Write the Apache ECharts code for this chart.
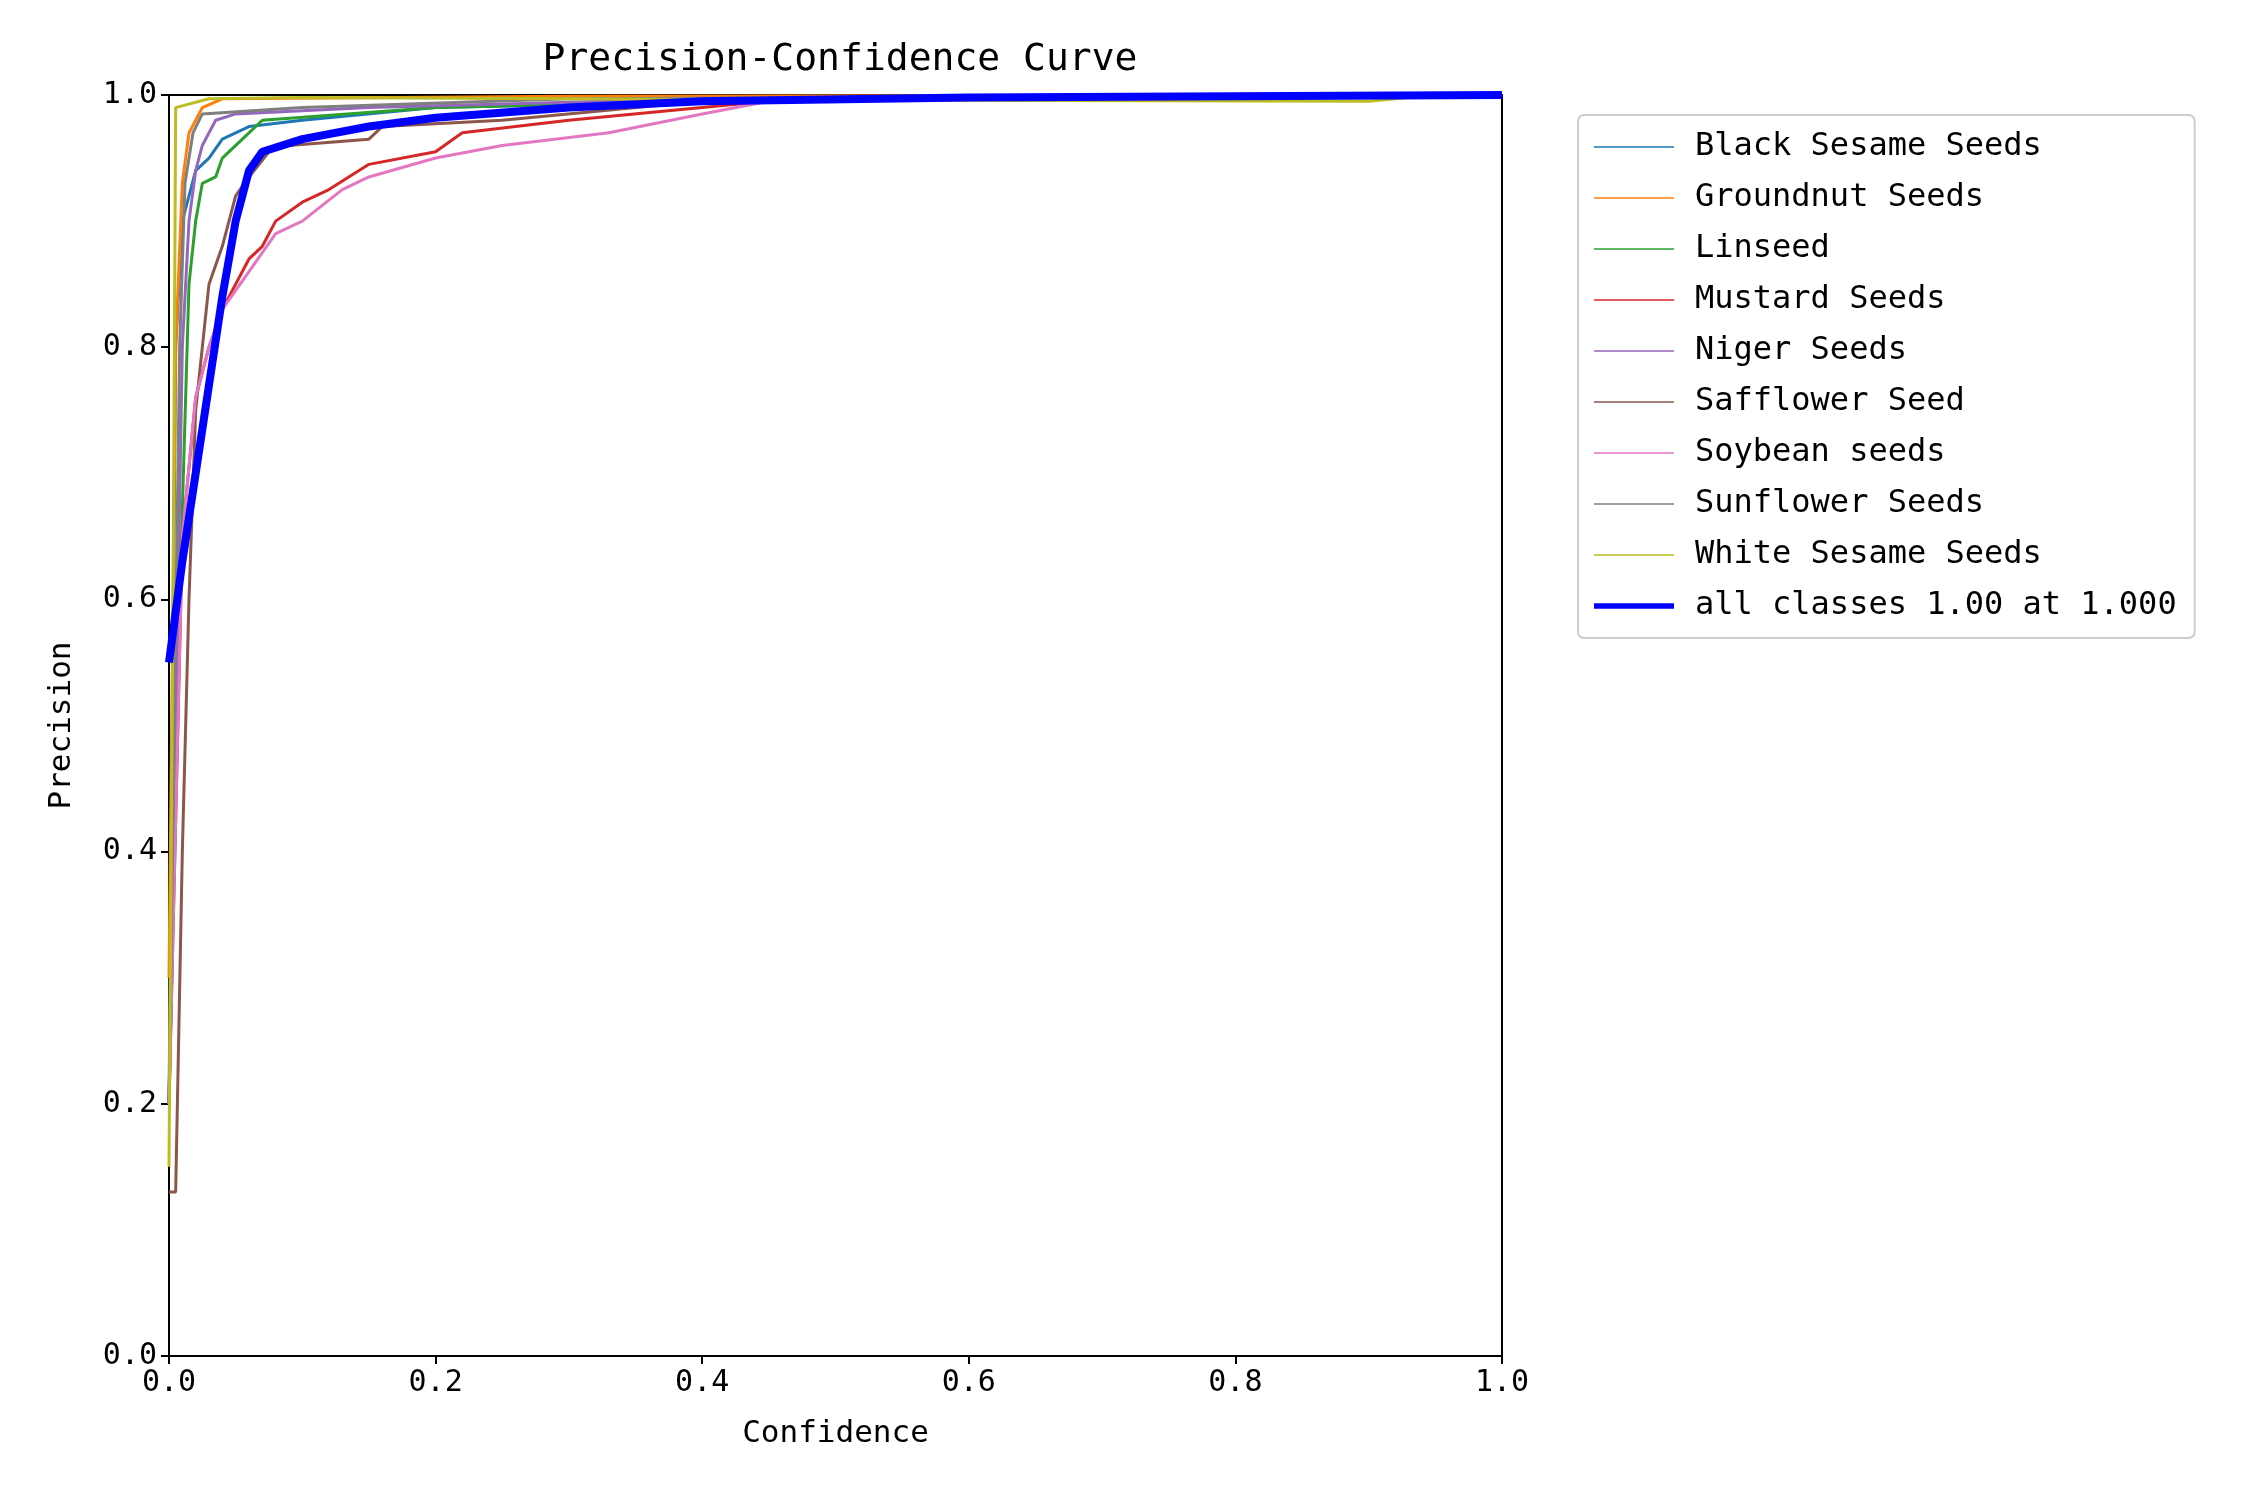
<!DOCTYPE html>
<html>
<head>
<meta charset="utf-8">
<script src="https://cdn.jsdelivr.net/npm/echarts@6/dist/echarts.min.js"></script>
<style>html,body{margin:0;background:#fff}#container{width:2250px;height:1500px}</style>
</head>
<body>
<div id="container"></div>
<script>
// confidence / precision points
var names = ['Black Sesame Seeds', 'Groundnut Seeds', 'Linseed', 'Mustard Seeds', 'Niger Seeds',
    'Safflower Seed', 'Soybean seeds', 'Sunflower Seeds', 'White Sesame Seeds', 'all classes 1.00 at 1.000'];
var colors = ['#1f77b4', '#ff7f0e', '#2ca02c', '#d62728', '#9467bd', '#8c564b', '#e377c2', '#7f7f7f', '#bcbd22', '#0000ff'];

var blackSesame = [[0,0.2],[0.005,0.8],[0.01,0.9],[0.02,0.94],[0.03,0.95],[0.04,0.965],[0.06,0.975],[0.1,0.98],[0.2,0.99],[0.5,0.997],[1,1]];
var groundnut = [[0,0.3],[0.005,0.8],[0.01,0.93],[0.015,0.97],[0.025,0.99],[0.04,0.997],[0.3,0.999],[1,1]];
var linseed = [[0,0.2],[0.008,0.6],[0.015,0.85],[0.02,0.9],[0.025,0.93],[0.035,0.935],[0.04,0.95],[0.06,0.97],[0.07,0.98],[0.2,0.99],[0.5,0.997],[1,1]];
var mustard = [[0,0.2],[0.01,0.65],[0.02,0.76],[0.03,0.8],[0.04,0.83],[0.06,0.87],[0.07,0.88],[0.08,0.9],[0.1,0.915],[0.12,0.925],[0.15,0.945],[0.2,0.955],[0.22,0.97],[0.3,0.98],[0.4,0.99],[0.45,0.995],[1,1]];
var niger = [[0,0.2],[0.01,0.8],[0.015,0.9],[0.02,0.94],[0.025,0.96],[0.035,0.98],[0.05,0.985],[0.15,0.99],[0.4,0.997],[1,1]];
var safflower = [[0,0.13],[0.005,0.13],[0.01,0.4],[0.015,0.6],[0.02,0.75],[0.03,0.85],[0.04,0.88],[0.05,0.92],[0.06,0.935],[0.075,0.955],[0.09,0.96],[0.15,0.965],[0.16,0.975],[0.25,0.98],[0.4,0.995],[1,1]];
var soybean = [[0,0.2],[0.01,0.65],[0.02,0.76],[0.03,0.8],[0.04,0.83],[0.06,0.86],[0.08,0.89],[0.1,0.9],[0.13,0.925],[0.15,0.935],[0.2,0.95],[0.25,0.96],[0.33,0.97],[0.4,0.985],[0.45,0.995],[1,1]];
var sunflower = [[0,0.2],[0.008,0.8],[0.012,0.93],[0.018,0.97],[0.025,0.985],[0.1,0.99],[0.3,0.997],[1,1]];
var whiteSesame = [[0,0.15],[0.003,0.6],[0.005,0.99],[0.03,0.997],[0.1,0.998],[0.5,0.996],[0.9,0.995],[0.95,1],[1,1]];
var allClasses = [[0,0.55],[0.01,0.63],[0.02,0.7],[0.03,0.77],[0.04,0.84],[0.05,0.9],[0.06,0.94],[0.07,0.955],[0.1,0.965],[0.15,0.975],[0.2,0.982],[0.3,0.99],[0.4,0.995],[0.6,0.998],[1,1]];
var seriesData = [blackSesame, groundnut, linseed, mustard, niger, safflower, soybean, sunflower, whiteSesame, allClasses];

var font = '"DejaVu Sans Mono", monospace';
var thinIcon = 'path://M0,0H0.01V0.01H0ZM0,3.3H80V4.7H0ZM79.99,8H80V7.99Z';
var thickIcon = 'path://M0,0H0.01V0.01H0ZM0,1.3H80V6.7H0ZM79.99,8H80V7.99Z';

var myChart = echarts.init(document.getElementById('container'));
var frameAxis = {axisLine: {show: true, onZero: false, lineStyle: {color: '#000', width: 2}}, axisTick: {show: false}, axisLabel: {show: false}, splitLine: {show: false}};
var option = {
    animation: false,
    title: {
        text: 'Precision-Confidence Curve', left: 835, top: 36, textAlign: 'center',
        textStyle: {fontFamily: font, fontSize: 38, fontWeight: 'normal', color: '#000'}
    },
    grid: {left: 169, right: 748, top: 95, bottom: 144},
    legend: {
        orient: 'vertical', left: 1578, top: 115, padding: [16, 18, 16, 16],
        itemWidth: 80, itemHeight: 8, itemGap: 19,
        borderColor: '#ccc', borderWidth: 2, borderRadius: 6,
        textStyle: {fontFamily: font, fontSize: 32, color: '#000', padding: [0, 0, 0, 16]},
        data: names.map(function (n, i) {
            return {name: n, icon: i === 9 ? thickIcon : thinIcon,
                itemStyle: {color: colors[i], opacity: 1, borderWidth: 0}};
        })
    },
    xAxis: [{
        type: 'value', min: 0, max: 1, interval: 0.2, name: 'Confidence', nameLocation: 'middle', nameGap: 62,
        nameTextStyle: {fontFamily: font, fontSize: 31, color: '#000'},
        axisLine: {onZero: false, lineStyle: {color: '#000', width: 2}},
        axisTick: {length: 8, lineStyle: {color: '#000', width: 2}},
        axisLabel: {fontFamily: font, fontSize: 30, color: '#000', margin: 12, formatter: function (v) { return v.toFixed(1); }},
        splitLine: {show: false}
    }, Object.assign({type: 'value', position: 'top', min: 0, max: 1}, frameAxis)],
    yAxis: [{
        type: 'value', min: 0, max: 1, interval: 0.2, name: 'Precision', nameLocation: 'middle', nameGap: 92,
        nameTextStyle: {fontFamily: font, fontSize: 31, color: '#000'},
        axisLine: {onZero: false, lineStyle: {color: '#000', width: 2}},
        axisTick: {length: 8, lineStyle: {color: '#000', width: 2}},
        axisLabel: {fontFamily: font, fontSize: 30, color: '#000', margin: 12, formatter: function (v) { return v.toFixed(1); }},
        splitLine: {show: false}
    }, Object.assign({type: 'value', position: 'right', min: 0, max: 1}, frameAxis)],
    series: names.map(function (n, i) {
        return {
            name: n, type: 'line', data: seriesData[i], showSymbol: false, symbol: 'none',
            color: colors[i], lineStyle: {width: i === 9 ? 8 : 3}, z: i === 9 ? 5 : 2
        };
    })
};
myChart.setOption(option);
</script>
</body>
</html>
